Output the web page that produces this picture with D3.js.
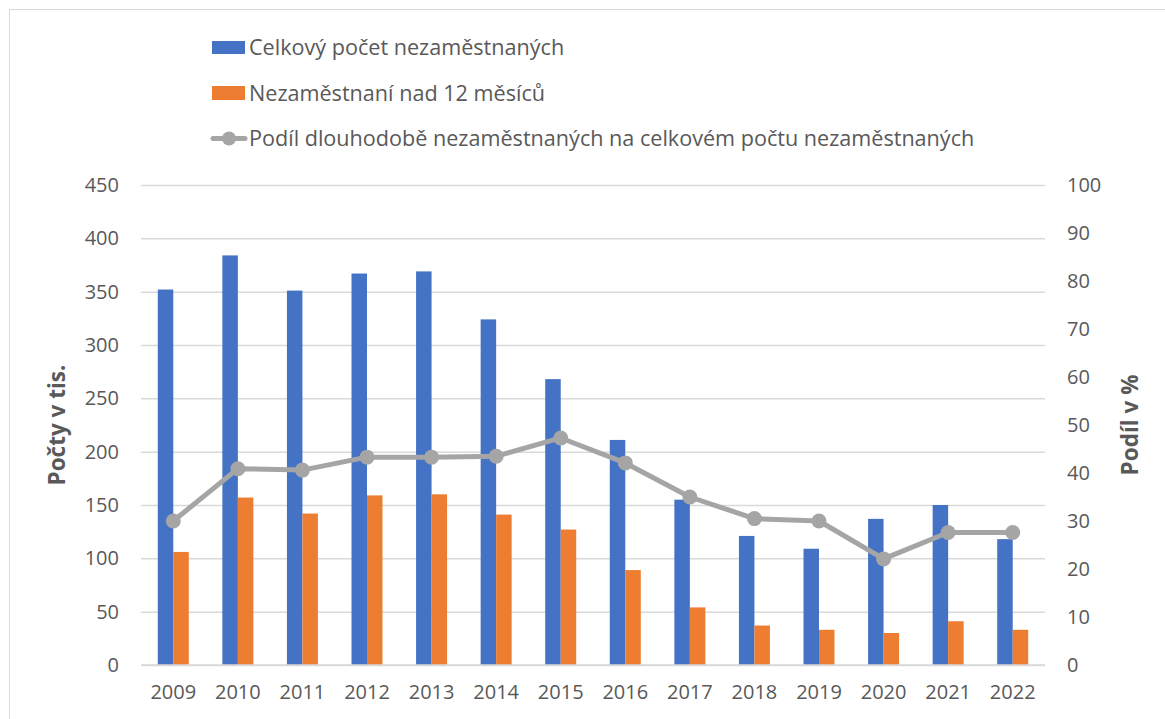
<html>
<head>
  <script src="https://d3js.org/d3.v7.min.js"></script>
  <style>
    body { margin: 0; background: white; }
    text { font-family: "Open Sans", sans-serif; fill: #595959; }
    .tick text { font-size: 20px; }
    .axisTitle { font-weight: bold; font-size: 22.5px; }
    .legend text { font-size: 21.6px; }
  </style>
</head>
<body>
  <svg id="chart" width="1165" height="719"></svg>
  <script>
    const years = ["2009", "2010", "2011", "2012", "2013", "2014", "2015", "2016", "2017", "2018", "2019", "2020", "2021", "2022"];
    const celkem = [352, 384, 351, 367, 369, 324, 268, 211, 155, 121, 109, 137, 150, 118];
    const nad12 = [106, 157, 142, 159, 160, 141, 127, 89, 54, 37, 33, 30, 41, 33];
    const podil = [30.0, 40.9, 40.6, 43.3, 43.3, 43.5, 47.3, 42.1, 35.0, 30.5, 30.0, 22.1, 27.6, 27.6];
    const leftTicks = [0, 50, 100, 150, 200, 250, 300, 350, 400, 450];
    const rightTicks = [0, 10, 20, 30, 40, 50, 60, 70, 80, 90, 100];
    const seriesNames = ["Celkový počet nezaměstnaných", "Nezaměstnaní nad 12 měsíců",
      "Podíl dlouhodobě nezaměstnaných na celkovém počtu nezaměstnaných"];

    const blue = "#4472C4", orange = "#ED7D31", gray = "#A5A5A5";

    let svg = d3.select("svg#chart");
    let margins = { left: 141, right: 120, top: 185, bottom: 54 };
    let w = +svg.attr("width"), h = +svg.attr("height");
    let chartWidth = 1045 - margins.left;
    let chartHeight = 665 - margins.top;

    // chart border
    svg.append("rect")
      .attr("x", 9.5).attr("y", 9.5)
      .attr("width", w + 10).attr("height", h + 10)
      .attr("fill", "none").attr("stroke", "#D9D9D9");

    let chartArea = svg.append("g")
      .attr("transform", `translate(${margins.left}, ${margins.top})`);

    let xScale = d3.scaleBand(years, [0, chartWidth]);
    let barW = xScale.bandwidth() * 0.24;
    let yLeft = d3.scaleLinear([0, 450], [chartHeight, 0]);
    let yRight = d3.scaleLinear([0, 100], [chartHeight, 0]);

    // grid
    let grid = d3.axisLeft(yLeft).tickValues(leftTicks).tickFormat("").tickSize(-chartWidth);
    chartArea.append("g").attr("class", "grid").call(grid)
      .call(g => g.select(".domain").remove())
      .call(g => g.selectAll("line").attr("stroke", "#D9D9D9").attr("stroke-width", 1.5));

    // axes
    let leftAxis = d3.axisLeft(yLeft).tickValues(leftTicks).tickSize(0).tickPadding(22);
    chartArea.append("g").call(leftAxis).call(g => g.select(".domain").remove());

    let rightAxis = d3.axisRight(yRight).tickValues(rightTicks).tickSize(0).tickPadding(22);
    chartArea.append("g").attr("transform", `translate(${chartWidth}, 0)`)
      .call(rightAxis).call(g => g.select(".domain").remove());

    let xAxis = d3.axisBottom(xScale).tickSize(0).tickPadding(20);
    chartArea.append("g").attr("transform", `translate(0, ${chartHeight})`)
      .call(xAxis).call(g => g.select(".domain").remove());

    chartArea.selectAll(".tick text").attr("fill", "#595959");

    // bars
    chartArea.selectAll("rect.celkem").data(years)
      .join("rect").attr("class", "celkem")
      .attr("x", d => xScale(d) + xScale.bandwidth() / 2 - barW)
      .attr("y", (d, i) => yLeft(celkem[i]))
      .attr("width", barW)
      .attr("height", (d, i) => chartHeight - yLeft(celkem[i]))
      .attr("fill", blue);

    chartArea.selectAll("rect.nad12").data(years)
      .join("rect").attr("class", "nad12")
      .attr("x", d => xScale(d) + xScale.bandwidth() / 2)
      .attr("y", (d, i) => yLeft(nad12[i]))
      .attr("width", barW)
      .attr("height", (d, i) => chartHeight - yLeft(nad12[i]))
      .attr("fill", orange);

    // baseline
    chartArea.append("line")
      .attr("x1", 0).attr("x2", chartWidth)
      .attr("y1", chartHeight).attr("y2", chartHeight)
      .attr("stroke", "#D9D9D9").attr("stroke-width", 1.5);

    // line
    let line = d3.line()
      .x((d, i) => xScale(years[i]) + xScale.bandwidth() / 2)
      .y(d => yRight(d));
    chartArea.append("path").datum(podil)
      .attr("d", line)
      .attr("fill", "none").attr("stroke", gray).attr("stroke-width", 5)
      .attr("stroke-linejoin", "round");
    chartArea.selectAll("circle").data(podil)
      .join("circle")
      .attr("cx", (d, i) => xScale(years[i]) + xScale.bandwidth() / 2)
      .attr("cy", d => yRight(d))
      .attr("r", 7.5)
      .attr("fill", gray);

    // axis titles
    svg.append("text").attr("class", "axisTitle")
      .text("Počty v tis.")
      .style("text-anchor", "middle")
      .attr("transform", `translate(65, 425) rotate(-90)`);

    svg.append("text").attr("class", "axisTitle")
      .text("Podíl v %")
      .style("text-anchor", "middle")
      .attr("transform", `translate(1138, 425) rotate(-90)`);

    // legend
    let legendG = svg.append("g").attr("class", "legend").attr("transform", "translate(212, 0)");
    legendG.append("rect").attr("x", 0).attr("y", 41).attr("width", 33).attr("height", 13).attr("fill", blue);
    legendG.append("rect").attr("x", 0).attr("y", 86).attr("width", 33).attr("height", 14).attr("fill", orange);
    legendG.append("line").attr("x1", 1).attr("x2", 33).attr("y1", 138.5).attr("y2", 138.5)
      .attr("stroke", gray).attr("stroke-width", 5).attr("stroke-linecap", "round");
    legendG.append("circle").attr("cx", 17).attr("cy", 138.5).attr("r", 7).attr("fill", gray);

    [46.5, 92, 137.5].forEach((y, i) => {
      legendG.append("text")
        .text(seriesNames[i])
        .attr("x", 37)
        .attr("y", y)
        .style("dominant-baseline", "central");
    });
  </script>
</body>
</html>
